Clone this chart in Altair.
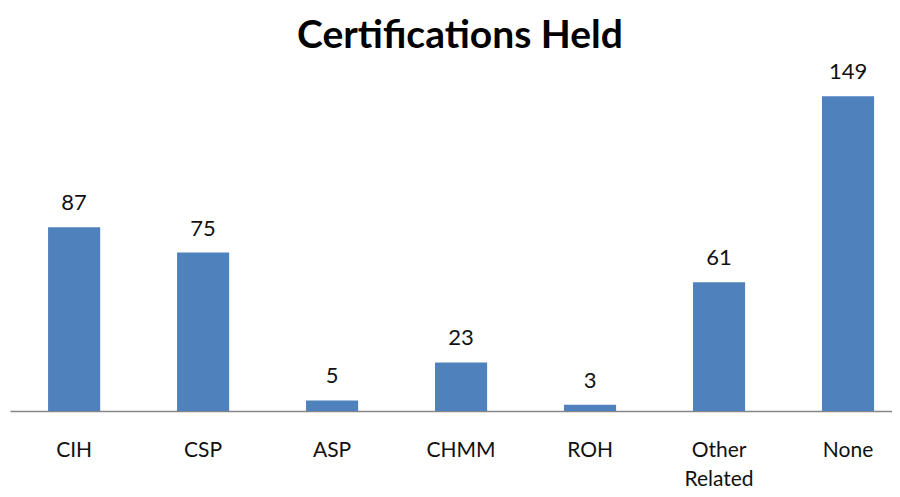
import altair as alt
import pandas as pd

categories = ["CIH", "CSP", "ASP", "CHMM", "ROH", "Other Related", "None"]
counts = [87, 75, 5, 23, 3, 61, 149]

df = pd.DataFrame({"cert": categories, "count": counts})

FONT = "Lato"
x = alt.X(
    "cert:N",
    sort=categories,
    title=None,
    scale=alt.Scale(paddingInner=0.596, paddingOuter=0.217, align=0.68),
    axis=alt.Axis(
        labelAngle=0,
        ticks=False,
        domainColor="#868686",
        domainWidth=1.5,
        labelFont=FONT,
        labelFontSize=21,
        labelColor="#111111",
        labelPadding=28,
        labelLineHeight=29,
        labelExpr="datum.label == 'Other Related' ? ['Other', 'Related'] : datum.label",
    ),
)
y = alt.Y("count:Q", scale=alt.Scale(domain=[0, 160]), axis=None)

bars = alt.Chart(df).mark_bar(color="#4F81BD").encode(x=x, y=y)
labels = alt.Chart(df).mark_text(
    font=FONT, fontSize=22, color="#111111", dy=-17, baseline="alphabetic"
).encode(x=alt.X("cert:N", sort=categories), y="count:Q", text="count:Q")

chart = (
    alt.layer(bars, labels)
    .properties(
        width=882,
        height=338,
        autosize=alt.AutoSizeParams(type="none"),
        padding={"left": 2, "top": 65, "right": 0, "bottom": 78},
        title=alt.TitleParams(
            "Certifications Held",
            font=FONT,
            fontSize=39,
            fontWeight="bold",
            color="#000000",
            anchor="middle",
            frame="group",
            dx=9,
            offset=5,
        ),
    )
    .configure_view(stroke=None)
)

chart.save("out.html", embed_options={"renderer": "svg", "actions": False})
